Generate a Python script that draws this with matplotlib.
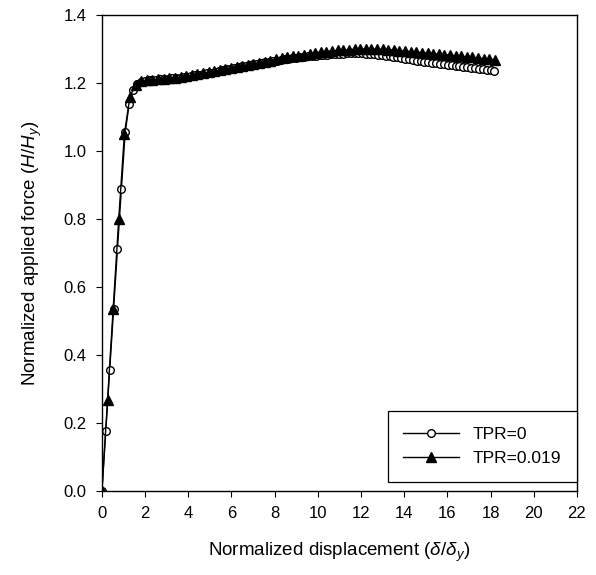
"""normalized force-displacement curves for two TPR values"""

import numpy as np
import matplotlib.pyplot as plt

plt.rcParams['font.family'] = ['Liberation Sans', 'DejaVu Sans']
plt.rcParams['mathtext.fontset'] = 'custom'
plt.rcParams['mathtext.it'] = 'Liberation Sans:italic'
plt.rcParams['mathtext.rm'] = 'Liberation Sans'

# TPR = 0 (open circles)
disp0 = [0.00, 0.18, 0.36, 0.54, 0.72, 0.90, 1.08, 1.26, 1.44, 1.62, 1.80, 1.98,
         2.16, 2.34, 2.52, 2.70, 2.88, 3.06, 3.24, 3.42, 3.60, 3.78, 3.96, 4.14,
         4.32, 4.50, 4.68, 4.86, 5.04, 5.22, 5.40, 5.58, 5.76, 5.94, 6.12, 6.30,
         6.48, 6.66, 6.84, 7.02, 7.20, 7.38, 7.56, 7.74, 7.92, 8.10, 8.28, 8.46,
         8.64, 8.82, 9.00, 9.18, 9.36, 9.54, 9.72, 9.90, 10.08, 10.26, 10.44, 10.62,
         10.80, 10.98, 11.16, 11.34, 11.52, 11.70, 11.88, 12.06, 12.24, 12.42, 12.60, 12.78,
         12.96, 13.14, 13.32, 13.50, 13.68, 13.86, 14.04, 14.22, 14.40, 14.58, 14.76, 14.94,
         15.12, 15.30, 15.48, 15.66, 15.84, 16.02, 16.20, 16.38, 16.56, 16.74, 16.92, 17.10,
         17.28, 17.46, 17.64, 17.82, 18.00, 18.18]
force0 = [0.000, 0.178, 0.356, 0.534, 0.712, 0.888, 1.055, 1.138, 1.178, 1.196, 1.203, 1.207,
          1.208, 1.209, 1.210, 1.211, 1.212, 1.213, 1.214, 1.215, 1.216, 1.217, 1.219, 1.220,
          1.222, 1.224, 1.226, 1.228, 1.230, 1.233, 1.235, 1.237, 1.240, 1.242, 1.244, 1.247,
          1.249, 1.251, 1.253, 1.255, 1.257, 1.259, 1.261, 1.263, 1.265, 1.266, 1.268, 1.270,
          1.271, 1.273, 1.274, 1.275, 1.277, 1.278, 1.279, 1.280, 1.281, 1.282, 1.283, 1.284,
          1.285, 1.286, 1.286, 1.287, 1.287, 1.287, 1.287, 1.287, 1.286, 1.285, 1.284, 1.283,
          1.281, 1.280, 1.278, 1.277, 1.275, 1.273, 1.271, 1.269, 1.268, 1.266, 1.264, 1.263,
          1.261, 1.260, 1.258, 1.257, 1.255, 1.254, 1.252, 1.251, 1.249, 1.248, 1.246, 1.245,
          1.243, 1.242, 1.240, 1.239, 1.237, 1.236]

# TPR = 0.019 (filled triangles)
disp1 = [0.00, 0.26, 0.52, 0.78, 1.04, 1.30, 1.56, 1.82, 2.08, 2.34, 2.60, 2.86,
         3.12, 3.38, 3.64, 3.90, 4.16, 4.42, 4.68, 4.94, 5.20, 5.46, 5.72, 5.98,
         6.24, 6.50, 6.76, 7.02, 7.28, 7.54, 7.80, 8.06, 8.32, 8.58, 8.84, 9.10,
         9.36, 9.62, 9.88, 10.14, 10.40, 10.66, 10.92, 11.18, 11.44, 11.70, 11.96, 12.22,
         12.48, 12.74, 13.00, 13.26, 13.52, 13.78, 14.04, 14.30, 14.56, 14.82, 15.08, 15.34,
         15.60, 15.86, 16.12, 16.38, 16.64, 16.90, 17.16, 17.42, 17.68, 17.94, 18.20]
force1 = [0.000, 0.267, 0.535, 0.800, 1.050, 1.160, 1.195, 1.205, 1.209, 1.210, 1.211, 1.213,
          1.214, 1.216, 1.217, 1.220, 1.222, 1.225, 1.228, 1.231, 1.234, 1.238, 1.241, 1.245,
          1.248, 1.251, 1.254, 1.257, 1.260, 1.263, 1.266, 1.269, 1.272, 1.275, 1.278, 1.280,
          1.283, 1.285, 1.288, 1.290, 1.292, 1.294, 1.296, 1.297, 1.298, 1.299, 1.300, 1.300,
          1.300, 1.300, 1.299, 1.298, 1.297, 1.295, 1.294, 1.292, 1.291, 1.289, 1.288, 1.286,
          1.285, 1.283, 1.282, 1.280, 1.278, 1.277, 1.275, 1.273, 1.271, 1.270, 1.268]

xticks = [0, 2, 4, 6, 8, 10, 12, 14, 16, 18, 20, 22]
yticks = [0.0, 0.2, 0.4, 0.6, 0.8, 1.0, 1.2, 1.4]

fig = plt.figure(figsize=(5.96, 5.75), dpi=100)
ax = fig.add_axes([0.171, 0.146, 0.797, 0.828])

ax.plot(disp0, force0, "-o", color="black", mfc="white", mec="black", ms=5.5, mew=1.0, lw=1.0, label="TPR=0")
ax.plot(disp1, force1, "-^", color="black", ms=6.5, lw=1.0, label="TPR=0.019")

ax.set_xlim(0, 22)
ax.set_ylim(0, 1.4)
ax.set_xticks(xticks)
ax.set_yticks(yticks)
ax.set_yticklabels(["{:.1f}".format(v) for v in yticks])
ax.tick_params(direction="out", length=4, width=0.8, labelsize=12, pad=7)
for s in ax.spines.values():
    s.set_linewidth(1.0)

ax.set_xlabel(r"Normalized displacement ($\delta/\delta_y$)", fontsize=13.5, labelpad=14)
ax.set_ylabel(r"Normalized applied force ($H/H_y$)", fontsize=13.5, labelpad=14)

leg = ax.legend(loc="lower right", bbox_to_anchor=(1.0, 0.019), borderaxespad=0, fontsize=12.5,
                handlelength=3.2, borderpad=0.9, labelspacing=0.55, fancybox=False, framealpha=1,
                edgecolor="black")
leg.get_frame().set_linewidth(0.9)

fig.savefig("out.png", dpi=100)
